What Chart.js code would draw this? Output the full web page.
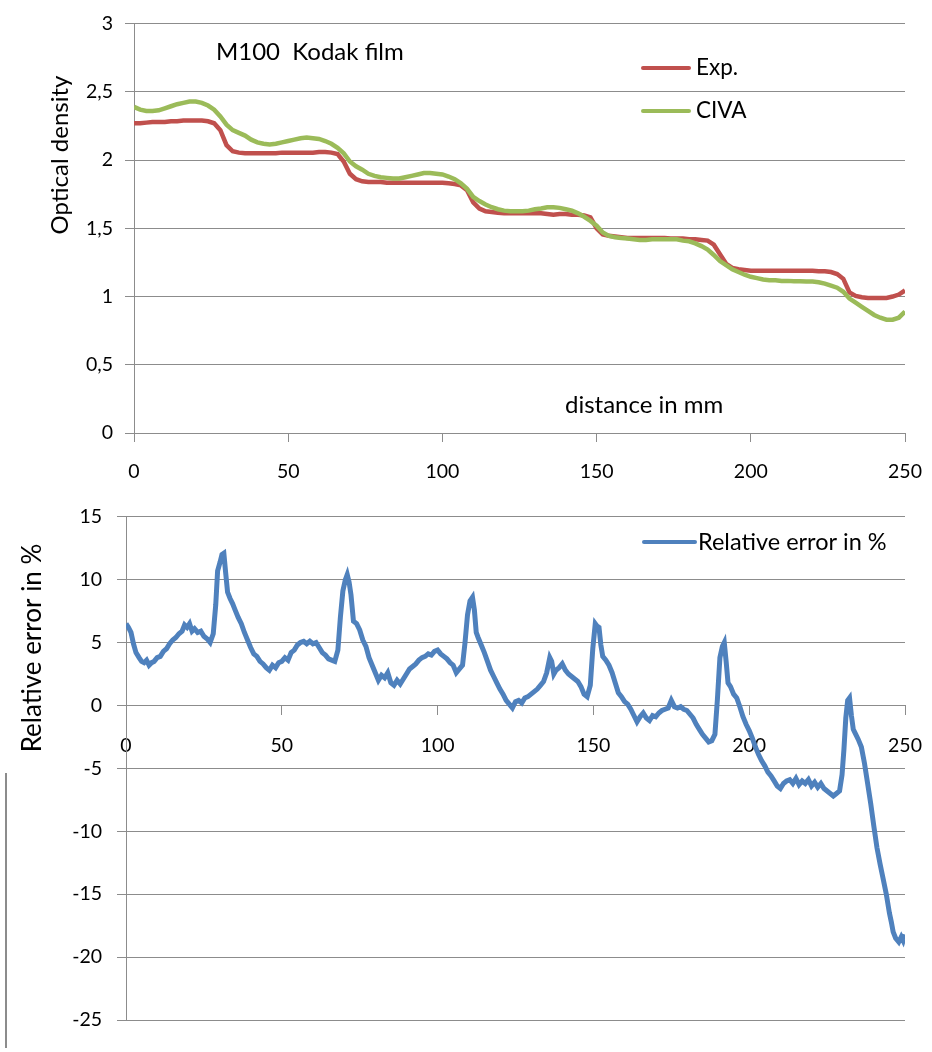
<!DOCTYPE html>
<html>
<head>
<meta charset="utf-8">
<script src="https://cdn.jsdelivr.net/npm/chart.js@4.4.1/dist/chart.umd.min.js"></script>
<style>
  html, body { margin: 0; padding: 0; background: #fff; }
  #wrap { position: relative; width: 932px; height: 1052px; overflow: hidden; }
  #odChart { position: absolute; left: 0; top: 0; }
  #errChart { position: absolute; left: 0; top: 490px; }
</style>
</head>
<body>
<div id="wrap">
  <canvas id="odChart" width="932" height="490"></canvas>
  <canvas id="errChart" width="932" height="562"></canvas>
</div>
<script>
'use strict'

// top chart: optical density vs distance (mm)
const odDistance = [0, 2, 4, 6, 8, 10, 12, 14, 16, 18, 20, 22, 24, 26, 28, 30, 32, 34, 36, 38,
  40, 42, 44, 46, 48, 50, 52, 54, 56, 58, 60, 62, 64, 66, 68, 70, 72, 74, 76, 78,
  80, 82, 84, 86, 88, 90, 92, 94, 96, 98, 100, 102, 104, 106, 108, 110, 112, 114, 116, 118,
  120, 122, 124, 126, 128, 130, 132, 134, 136, 138, 140, 142, 144, 146, 148, 150, 152, 154, 156, 158,
  160, 162, 164, 166, 168, 170, 172, 174, 176, 178, 180, 182, 184, 186, 188, 190, 192, 194, 196, 198,
  200, 202, 204, 206, 208, 210, 212, 214, 216, 218, 220, 222, 224, 226, 228, 230, 232, 234, 236, 238,
  240, 242, 244, 246, 248, 250];

const expDensity = [2.27, 2.27, 2.275, 2.28, 2.28, 2.28, 2.285, 2.285, 2.29, 2.29, 2.29, 2.29, 2.285, 2.27, 2.22, 2.11, 2.065, 2.055, 2.05, 2.05,
  2.05, 2.05, 2.05, 2.05, 2.055, 2.055, 2.055, 2.055, 2.055, 2.055, 2.06, 2.06, 2.055, 2.045, 1.99, 1.90, 1.86, 1.845, 1.84, 1.84,
  1.84, 1.835, 1.835, 1.835, 1.835, 1.835, 1.835, 1.835, 1.835, 1.835, 1.835, 1.83, 1.825, 1.815, 1.78, 1.69, 1.645, 1.625, 1.62, 1.615,
  1.61, 1.61, 1.61, 1.61, 1.61, 1.61, 1.61, 1.605, 1.60, 1.605, 1.605, 1.60, 1.60, 1.595, 1.58, 1.50, 1.455, 1.445, 1.44, 1.435,
  1.43, 1.43, 1.43, 1.43, 1.43, 1.43, 1.43, 1.425, 1.425, 1.425, 1.42, 1.42, 1.415, 1.41, 1.38, 1.31, 1.24, 1.21, 1.20, 1.195,
  1.19, 1.19, 1.19, 1.19, 1.19, 1.19, 1.19, 1.19, 1.19, 1.19, 1.19, 1.185, 1.185, 1.18, 1.165, 1.13, 1.03, 1.005, 0.995, 0.99,
  0.99, 0.99, 0.99, 1.00, 1.015, 1.045];

const civaDensity = [2.39, 2.37, 2.36, 2.36, 2.365, 2.38, 2.395, 2.41, 2.42, 2.43, 2.43, 2.42, 2.40, 2.37, 2.32, 2.26, 2.22, 2.20, 2.18, 2.15,
  2.13, 2.12, 2.115, 2.12, 2.13, 2.14, 2.15, 2.16, 2.165, 2.16, 2.155, 2.14, 2.12, 2.09, 2.05, 1.99, 1.955, 1.93, 1.90, 1.885,
  1.875, 1.87, 1.865, 1.865, 1.875, 1.885, 1.895, 1.905, 1.905, 1.90, 1.895, 1.88, 1.86, 1.83, 1.79, 1.73, 1.70, 1.675, 1.655, 1.64,
  1.63, 1.625, 1.625, 1.625, 1.63, 1.64, 1.645, 1.655, 1.655, 1.65, 1.64, 1.63, 1.61, 1.585, 1.555, 1.52, 1.47, 1.445, 1.435, 1.43,
  1.425, 1.42, 1.415, 1.415, 1.42, 1.42, 1.42, 1.42, 1.42, 1.41, 1.405, 1.39, 1.37, 1.345, 1.305, 1.26, 1.23, 1.20, 1.18, 1.16,
  1.145, 1.135, 1.125, 1.12, 1.12, 1.115, 1.115, 1.113, 1.113, 1.11, 1.11, 1.105, 1.095, 1.08, 1.065, 1.035, 0.985, 0.955, 0.925, 0.895,
  0.865, 0.845, 0.83, 0.83, 0.845, 0.89];

const odTickLabels = ['0', '0,5', '1', '1,5', '2', '2,5', '3'];
const distTickLabels = ['0', '50', '100', '150', '200', '250'];

// bottom chart: relative error (%) vs distance (mm)
const errDistance = [0, 0.8, 1.6, 2.4, 3.2, 4.2, 5, 5.8, 6.6, 7.4, 8.2, 9, 10, 11, 12, 13, 14, 15, 16, 17,
  18, 18.8, 19.6, 20.4, 21.2, 22, 23, 24, 25, 26, 27, 28, 28.8, 29.4, 30.2, 30.8, 31.4, 32, 32.6, 33.4,
  34.2, 35, 36, 37, 38, 39, 40, 41, 42, 43, 44, 45, 46, 47, 48, 49, 50, 51, 52, 53,
  54, 55, 56, 57, 58, 59, 60, 61, 62, 63, 64, 65, 66, 67, 68, 68.8, 69.6, 70.4, 71, 71.6,
  72.2, 73, 74, 75, 76, 77, 78, 79, 80, 81, 82, 83, 84, 85, 86, 87, 88, 89, 90, 91,
  92, 93, 94, 95, 96, 97, 98, 99, 100, 101, 102, 103, 104, 105, 106, 107, 108, 108.8, 109.6, 110.4,
  111.2, 111.8, 112.4, 113, 114, 115, 116, 117, 118, 119, 120, 121, 122, 123, 124, 125, 126, 127, 128, 129,
  130, 131, 132, 133, 134, 135, 136, 136.6, 137.3, 138, 139, 140, 141, 142, 143, 144, 145, 146, 147, 148,
  149, 149.8, 150.6, 151.2, 151.8, 152.4, 153, 154, 155, 156, 157, 158, 159, 160, 161, 162, 163, 164, 165, 166,
  167, 168, 169, 170, 171, 172, 173, 174, 175, 176, 177, 178, 179, 180, 181, 182, 183, 184, 185, 186,
  187, 188, 189, 189.8, 190.6, 191.4, 192, 192.6, 193.2, 194, 195, 196, 197, 198, 199, 200, 201, 202, 203, 204,
  205, 206, 207, 208, 209, 210, 211, 212, 213, 214, 215, 216, 217, 218, 219, 220, 221, 222, 223, 224,
  225, 226, 227, 228, 229, 229.8, 230.4, 231, 231.6, 232.2, 232.8, 233.4, 234, 235, 236, 237, 238, 239, 240, 241,
  242, 243, 244, 245, 245.6, 246.2, 247, 248, 248.8, 249.4, 250];

const relError = [6.5, 6.2, 5.8, 4.9, 4.2, 3.8, 3.5, 3.4, 3.6, 3.2, 3.4, 3.5, 3.8, 3.9, 4.3, 4.5, 4.9, 5.2, 5.4, 5.7,
  5.9, 6.4, 6.2, 6.5, 5.9, 6.1, 5.8, 5.9, 5.5, 5.3, 5.0, 5.7, 8.0, 10.7, 11.4, 12.0, 12.1, 10.5, 9.0, 8.5,
  8.1, 7.6, 7.0, 6.5, 5.8, 5.2, 4.6, 4.1, 3.9, 3.5, 3.3, 3.0, 2.8, 3.2, 3.0, 3.4, 3.5, 3.8, 3.6, 4.2,
  4.4, 4.8, 5.0, 5.1, 4.9, 5.1, 4.9, 5.0, 4.6, 4.2, 4.0, 3.7, 3.6, 3.5, 4.4, 7.0, 9.1, 10.0, 10.4, 9.8,
  8.8, 6.7, 6.5, 6.0, 5.2, 4.7, 3.8, 3.2, 2.6, 2.0, 2.4, 2.2, 2.6, 1.8, 1.6, 2.0, 1.7, 2.1, 2.5, 2.9,
  3.1, 3.3, 3.6, 3.8, 3.9, 4.1, 4.0, 4.3, 4.4, 4.1, 3.9, 3.7, 3.4, 3.2, 2.6, 2.9, 3.2, 5.0, 7.2, 8.3,
  8.6, 7.6, 5.8, 5.4, 4.8, 4.2, 3.5, 2.8, 2.3, 1.8, 1.3, 0.9, 0.4, 0.1, -0.2, 0.3, 0.4, 0.2, 0.6, 0.7,
  0.9, 1.1, 1.3, 1.6, 1.9, 2.6, 3.8, 3.5, 2.5, 2.8, 3.0, 3.3, 2.8, 2.5, 2.3, 2.1, 1.9, 1.5, 0.9, 0.7,
  1.6, 4.5, 6.5, 6.3, 6.2, 4.8, 3.9, 3.6, 3.2, 2.6, 1.8, 1.0, 0.7, 0.3, 0.1, -0.3, -0.8, -1.3, -0.9, -0.6,
  -1.0, -1.2, -0.8, -0.9, -0.6, -0.4, -0.3, -0.2, 0.4, -0.1, -0.2, -0.1, -0.3, -0.4, -0.7, -1.0, -1.5, -1.9, -2.3, -2.6,
  -2.9, -2.8, -2.3, 0.5, 3.8, 4.7, 5.0, 3.5, 1.8, 1.5, 0.9, 0.6, -0.1, -0.9, -1.5, -2.0, -2.6, -3.3, -3.9, -4.4,
  -4.8, -5.3, -5.6, -6.0, -6.4, -6.6, -6.2, -6.0, -5.9, -6.2, -5.8, -6.3, -6.0, -6.2, -5.9, -6.4, -6.1, -6.5, -6.2, -6.6,
  -6.8, -7.0, -7.2, -7.0, -6.8, -5.5, -3.5, -1.0, 0.4, 0.6, -0.8, -1.9, -2.2, -2.7, -3.3, -4.6, -6.2, -7.8, -9.6, -11.3,
  -12.6, -13.8, -15.0, -16.5, -17.2, -18.0, -18.5, -18.8, -18.4, -18.7, -18.2];

const errTickLabels = ['-25', '-20', '-15', '-10', '-5', '0', '5', '10', '15'];

const FONT = 'Lato, "Liberation Sans", sans-serif';
const GRID = '#8c8c8c';
Chart.defaults.font.family = FONT;
Chart.defaults.color = '#000';

function points(xs, ys) {
  return xs.map((x, i) => ({ x: x, y: ys[i] }));
}

// keep the tick labels from pushing the plot edges in
function noSidePadding(s) {
  s.paddingLeft = 0;
  s.paddingRight = 0;
}

const odText = {
  id: 'odText',
  afterDraw(chart) {
    const c = chart.ctx;
    c.save();
    c.fillStyle = '#000';
    c.textBaseline = 'middle';
    c.font = '24px ' + FONT;
    c.fillText('M100  Kodak film', 216, 52);
    c.fillText('distance in mm', 565, 405);
    // legend
    c.font = '22.5px ' + FONT;
    chart.data.datasets.forEach((ds, i) => {
      const y = 68 + i * 43;
      c.strokeStyle = ds.borderColor;
      c.lineWidth = 4;
      c.lineCap = 'round';
      c.beginPath();
      c.moveTo(643, y);
      c.lineTo(689, y);
      c.stroke();
      c.fillText(ds.label, 696, y);
    });
    c.translate(60, 155);
    c.rotate(-Math.PI / 2);
    c.textAlign = 'center';
    c.font = '24px ' + FONT;
    c.fillText('Optical density', 0, 0);
    c.restore();
  }
};

const errText = {
  id: 'errText',
  afterDraw(chart) {
    const c = chart.ctx;
    const ds = chart.data.datasets[0];
    c.save();
    c.fillStyle = '#000';
    c.textBaseline = 'middle';
    c.font = '23.5px ' + FONT;
    c.strokeStyle = ds.borderColor;
    c.lineWidth = 4;
    c.lineCap = 'round';
    c.beginPath();
    c.moveTo(644, 52);
    c.lineTo(695, 52);
    c.stroke();
    c.fillText(ds.label, 698, 52);
    // stray frame line at the left edge
    c.strokeStyle = '#8c8c8c';
    c.lineWidth = 2;
    c.lineCap = 'butt';
    c.beginPath();
    c.moveTo(6, 283);
    c.lineTo(6, 558);
    c.stroke();
    c.translate(33, 158);
    c.rotate(-Math.PI / 2);
    c.textAlign = 'center';
    c.font = '26px ' + FONT;
    c.fillText('Relative error in %', 0, 0);
    c.restore();
  }
};

new Chart(document.getElementById('odChart'), {
  type: 'line',
  data: {
    datasets: [
      { label: 'Exp.', data: points(odDistance, expDensity), borderColor: '#C0504D', borderWidth: 4.5, pointRadius: 0, order: 1 },
      { label: 'CIVA', data: points(odDistance, civaDensity), borderColor: '#9BBB59', borderWidth: 4.5, pointRadius: 0, order: 0 }
    ]
  },
  options: {
    responsive: false,
    animation: false,
    layout: { padding: { top: 19, right: 27, left: 0, bottom: 0 } },
    plugins: { legend: { display: false }, tooltip: { enabled: false } },
    scales: {
      x: {
        type: 'linear', min: 0, max: 250,
        ticks: { stepSize: 50, padding: 18, font: { size: 19.5 }, callback: (v, i) => distTickLabels[i] },
        grid: { drawOnChartArea: false, color: GRID, tickLength: 9 },
        border: { color: GRID },
        afterFit: s => { s.height = 57; noSidePadding(s); }
      },
      y: {
        min: 0, max: 3,
        ticks: { stepSize: 0.5, padding: 12, font: { size: 19.5 }, callback: (v, i) => odTickLabels[i] },
        grid: { color: GRID, tickLength: 9 },
        border: { color: GRID },
        afterFit: s => { s.width = 134; }
      }
    }
  },
  plugins: [odText]
});

new Chart(document.getElementById('errChart'), {
  type: 'line',
  data: {
    datasets: [
      { label: 'Relative error in %', data: points(errDistance, relError), borderColor: '#4F81BD', borderWidth: 5, pointRadius: 0 }
    ]
  },
  options: {
    responsive: false,
    animation: false,
    layout: { padding: { top: 22, right: 27, left: 0, bottom: 32 } },
    plugins: { legend: { display: false }, tooltip: { enabled: false } },
    scales: {
      x: {
        type: 'linear', min: 0, max: 250, position: { y: 0 },
        ticks: { stepSize: 50, padding: 20, font: { size: 19.5 }, callback: (v, i) => distTickLabels[i] },
        grid: { drawOnChartArea: false, color: GRID, tickLength: 9 },
        border: { color: GRID },
        afterFit: noSidePadding
      },
      y: {
        min: -25, max: 15,
        ticks: { stepSize: 5, padding: 15, font: { size: 19.5 }, callback: (v, i) => errTickLabels[i] },
        grid: { color: GRID, tickLength: 9 },
        border: { color: GRID },
        afterFit: s => { s.width = 126; }
      }
    }
  },
  plugins: [errText]
});
</script>
</body>
</html>
